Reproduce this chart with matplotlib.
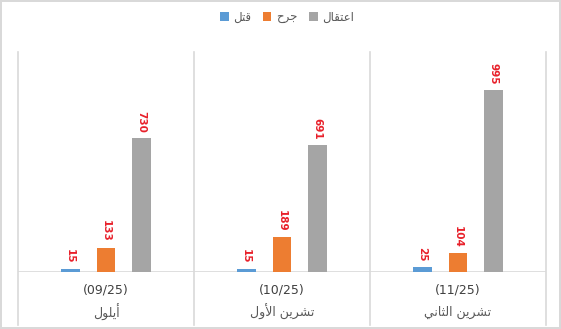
"""Monthly counts: killed / wounded / arrested, grouped by month (multi-level labels)."""
import numpy as np
import matplotlib.pyplot as plt
from matplotlib.patches import Patch

# Arabic text is written in visual order with presentation forms,
# since matplotlib does no shaping or bidi on its own.
series_names = ["\uFEDE\uFE98\uFED7",                      # قتل
                "\uFEA1\uFEAE\uFE9F",                      # جرح
                "\uFEDD\uFE8E\uFED8\uFE98\uFECB\uFE8D"]    # اعتقال
periods = ["(09/25)", "(10/25)", "(11/25)"]
months = ["\uFEDD\uFEEE\uFEE0\uFEF3\uFE83",                                   # أيلول
          "\uFEDD\uFEED\uFEF7\uFE8D \uFEE6\uFEF3\uFEAE\uFEB8\uFE97",          # تشرين الأول
          "\uFEF2\uFEE7\uFE8E\uFE9C\uFEDF\uFE8D \uFEE6\uFEF3\uFEAE\uFEB8\uFE97"]  # تشرين الثاني

killed = [15, 15, 25]
wounded = [133, 189, 104]
arrested = [730, 691, 995]

colors = ["#5B9BD5", "#ED7D31", "#A5A5A5"]
label_color = "#E8202A"
grid_color = "#D9D9D9"

fig = plt.figure(figsize=(5.61, 3.29), dpi=100)
fig.patch.set_edgecolor(grid_color)
fig.patch.set_linewidth(1.5)

W, H = 561, 329
ax = fig.add_axes([18 / W, (H - 272) / H, (546 - 18) / W, (272 - 52) / H])

x = np.arange(len(periods))
offset = 0.203
width = 0.105
for k, (vals, col) in enumerate(zip([killed, wounded, arrested], colors)):
    bars = ax.bar(x + (k - 1) * offset, vals, width, color=col, zorder=3)
    for b, v in zip(bars, vals):
        ax.annotate(str(v), (b.get_x() + b.get_width() / 2, b.get_height()),
                    xytext=(0, 4), textcoords="offset points",
                    ha="center", va="bottom", rotation=-90,
                    fontsize=7.5, fontweight="bold", color=label_color)

ax.set_xlim(-0.5, len(periods) - 0.5)
ax.set_ylim(0, 1200)
for s in ax.spines.values():
    s.set_visible(False)
ax.set_xticks([])
ax.set_yticks([])

# baseline and group separators (reaching down through the label rows)
ax.axhline(0, color=grid_color, lw=1.2, zorder=2)
trans = ax.get_xaxis_transform()
sep_bottom = -(325 - 272) / (272 - 52)
for xs in np.arange(-0.5, len(periods), 1.0):
    ax.plot([xs, xs], [sep_bottom, 1], transform=trans, color=grid_color,
            lw=1.2, clip_on=False, zorder=1)

row1 = -(290 - 272) / (272 - 52)
row2 = -(312 - 272) / (272 - 52)
for i in range(len(periods)):
    ax.text(i, row1, periods[i], transform=trans, ha="center", va="center",
            fontsize=9, color="#404040")
    ax.text(i, row2, months[i], transform=trans, ha="center", va="center",
            fontsize=9, color="#595959")

handles = [Patch(facecolor=c, edgecolor="none") for c in colors]
fig.legend(handles, series_names, loc="center", bbox_to_anchor=(0.512, 0.948),
           ncol=3, frameon=False, fontsize=8.5, handlelength=0.7,
           handleheight=0.7, handletextpad=0.4, columnspacing=1.0,
           labelcolor="#595959")

fig.savefig("out.png", dpi=100)
